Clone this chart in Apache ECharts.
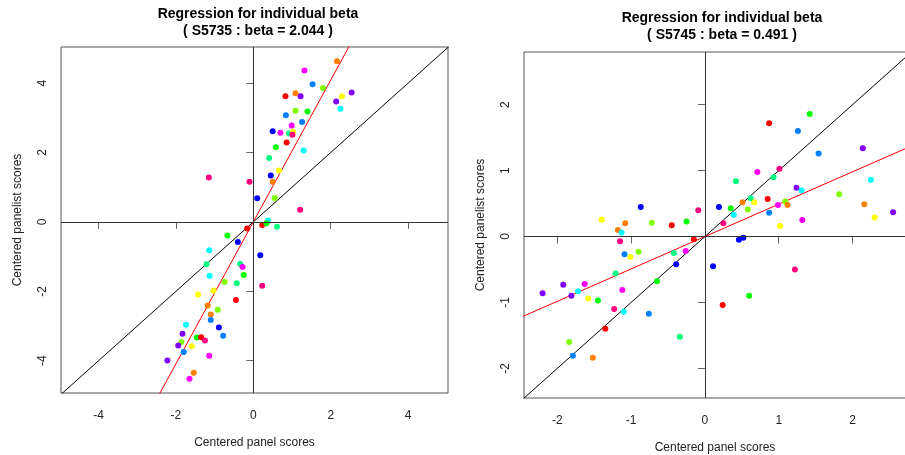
<!DOCTYPE html>
<html><head><meta charset="utf-8">
<script src="https://cdn.jsdelivr.net/npm/echarts@6/dist/echarts.min.js"></script>
<style>html,body{margin:0;padding:0;background:#fff}#c{width:905px;height:455px}</style>
</head><body><div id="c"></div>
<script>
// ---- data ----
const palette = ['#FF0000','#FF8000','#FFFF00','#80FF00','#00FF00','#00FF80','#00FFFF','#0080FF','#0000FF','#8000FF','#FF00FF','#FF0080'];
const xTicks = [-4,-2,0,2,4];
const yTicks = [-4,-2,0,2,4];
const xTicksR = [-2,-1,0,1,2];
const yTicksR = [-2,-1,0,1,2];
const title1 = ['Regression for individual beta', '( S5735 : beta = 2.044 )'];
const title2 = ['Regression for individual beta', '( S5745 : beta = 0.491 )'];
const beta1 = 2.044;
const beta2 = 0.491;
// left panel (S5735)
const leftX = [2.16,1.32,1.53,1.80,1.09,0.83,1.22,2.54,2.29,2.14,2.25,1.09,1.40,0.84,1.26,0.99,0.50,0.70,0.92,1.03,1.01,0.86,0.58,1.30,0.41,0.66,0.45,0.50,-0.10,0.10,0.55,1.21,0.38,-1.15,
 -0.16,0.23,0.34,0.61,0.18,0.23,-0.67,-0.40,-1.14,-1.21,-1.13,-0.34,-0.28,-0.25,-0.43,-0.74,-1.43,-1.03,-0.45,-1.18,-0.92,-1.10,-1.10,-1.74,-0.89,-1.83,-0.78,-1.46,-1.35,-1.25,-1.86,-1.94,-1.59,-1.80,-1.14,-2.22,-1.54,-1.65];
const leftY = [4.63,4.36,3.97,3.86,3.71,3.62,3.62,3.73,3.62,3.47,3.26,3.20,3.18,3.07,2.88,2.78,2.61,2.57,2.55,2.60,2.51,2.29,2.15,2.06,1.84,1.48,1.34,1.16,1.16,0.68,0.69,0.35,0.04,1.28,
 -0.19,-0.09,-0.04,-0.14,-0.96,-1.84,-0.39,-0.58,-0.82,-1.22,-1.55,-1.21,-1.30,-1.53,-1.77,-1.73,-2.09,-1.98,-2.25,-2.41,-2.53,-2.67,-2.83,-2.96,-3.04,-3.22,-3.28,-3.33,-3.32,-3.42,-3.46,-3.56,-3.58,-3.75,-3.86,-3.99,-4.35,-4.52];
const leftG = [1,10,7,3,1,0,9,9,2,9,6,3,4,7,7,10,8,10,5,2,11,0,4,6,5,2,8,1,11,8,3,11,6,11,
 0,0,4,5,8,11,4,8,6,5,6,5,10,4,5,3,2,2,0,1,3,1,7,6,8,9,7,4,0,11,3,9,2,7,10,9,1,10];
// right panel (S5745)
const rightX = [-0.87,-0.09,-1.40,-0.72,-0.45,-0.25,-1.08,-1.18,-1.13,-0.15,-1.15,-1.09,-1.01,-0.90,-0.42,-0.26,-0.39,-1.21,-0.65,-2.20,-1.92,-1.63,-1.72,-1.81,-1.12,-1.58,-1.45,-1.23,-1.10,-0.76,-1.35,-0.34,-1.84,-1.79,-1.52,
 1.42,0.87,1.26,2.14,1.54,0.71,1.01,0.42,0.93,1.24,1.31,2.25,1.82,0.62,0.51,0.67,0.85,1.09,1.12,0.99,0.19,0.35,0.58,0.39,0.87,2.16,2.55,2.30,1.32,1.02,0.25,0.52,0.46,0.11,1.22,0.60,0.24];
const rightY = [0.45,0.40,0.26,0.21,0.17,0.23,0.20,0.10,0.06,-0.04,-0.07,-0.27,-0.31,-0.23,-0.25,-0.22,-0.42,-0.56,-0.68,-0.86,-0.73,-0.72,-0.83,-0.90,-0.81,-0.94,-0.97,-1.10,-1.14,-1.17,-1.40,-1.52,-1.60,-1.81,-1.84,
 1.86,1.72,1.60,1.34,1.26,0.98,1.03,0.84,0.90,0.74,0.70,0.86,0.64,0.58,0.52,0.52,0.57,0.53,0.48,0.48,0.45,0.43,0.41,0.33,0.36,0.49,0.37,0.29,0.25,0.16,0.20,-0.02,-0.05,-0.45,-0.50,-0.90,-1.04];
const rightG = [8,11,2,3,0,4,1,1,6,0,11,7,2,3,5,10,8,5,4,9,9,10,6,9,10,2,4,11,6,7,0,5,3,7,1,
 4,0,7,9,7,10,11,5,5,9,6,6,3,5,1,2,0,3,1,10,8,4,3,6,7,1,9,2,10,2,11,8,8,8,11,4,0];

// ---- chart ----
const FONT = '"Liberation Sans", Arial, sans-serif';
const chart = echarts.init(document.getElementById('c'), null, {renderer:'canvas'});
function pts(xs, ys, gs){ return xs.map((x,i)=>[x, ys[i], gs[i]]); }
function axisX(idx, min, max, ticks){
  return {gridIndex: idx, type:'value', min:min, max:max,
    name:'Centered panel scores', nameLocation:'middle', nameGap:44,
    nameTextStyle:{fontFamily:FONT, fontSize:12, color:'#222'},
    axisLine:{show:false}, splitLine:{show:false},
    axisTick:{show:true, length:7, inside:false, customValues:ticks, lineStyle:{color:'#666'}},
    axisLabel:{customValues:ticks, margin:17, fontFamily:FONT, fontSize:12, color:'#222'}};
}
function axisY(idx, min, max, ticks, gap){
  return {gridIndex: idx, type:'value', min:min, max:max,
    name:'Centered panelist scores', nameLocation:'middle', nameGap:gap, nameRotate:90,
    nameTextStyle:{fontFamily:FONT, fontSize:12, color:'#222'},
    axisLine:{show:false}, splitLine:{show:false},
    axisTick:{show:true, length:7, inside:false, customValues:ticks, lineStyle:{color:'#666'}},
    axisLabel:{customValues:ticks, rotate:90, margin:12, fontFamily:FONT, fontSize:12, color:'#222'}};
}
function scatter(idx, data){
  return {type:'scatter', xAxisIndex:idx, yAxisIndex:idx, data:data, symbolSize:6,
    itemStyle:{color:p=>palette[p.value[2]], opacity:1}, z:3,
    markLine:{silent:true, symbol:'none', label:{show:false}, animation:false,
      lineStyle:{color:'#333', width:1, type:'solid'},
      data:[{xAxis:0},{yAxis:0}]}};
}
function line(idx, slope, color){
  return {type:'line', xAxisIndex:idx, yAxisIndex:idx, clip:true, symbol:'none', silent:true,
    data:[[-20, -20*slope],[20, 20*slope]], lineStyle:{color:color, width:1}, z:2};
}
chart.setOption({
  animation:false,
  backgroundColor:'#fff',
  title:[
    {text:title1[0]+'\n'+title1[1], left:253, top:1, textAlign:'center',
      textStyle:{fontFamily:FONT, fontSize:14, fontWeight:'bold', color:'#000', lineHeight:17}},
    {text:title2[0]+'\n'+title2[1], left:717, top:5, textAlign:'center',
      textStyle:{fontFamily:FONT, fontSize:14, fontWeight:'bold', color:'#000', lineHeight:17}}
  ],
  grid:[
    {left:61, top:47, width:387, height:346, show:true, borderColor:'#555', borderWidth:1, backgroundColor:'transparent', outerBoundsMode:'none', containLabel:false},
    {left:524, top:52, width:382, height:346, show:true, borderColor:'#555', borderWidth:1, backgroundColor:'transparent', outerBoundsMode:'none', containLabel:false}
  ],
  xAxis:[axisX(0, -4.97, 5.03, xTicks), axisX(1, -2.452, 2.725, xTicksR)],
  yAxis:[axisY(0, -4.93, 5.04, yTicks, 37), axisY(1, -2.45, 2.80, yTicksR, 37)],
  series:[
    line(0, 1, '#000'), line(0, beta1, '#FF0000'), scatter(0, pts(leftX,leftY,leftG)),
    line(1, 1, '#000'), line(1, beta2, '#FF0000'), scatter(1, pts(rightX,rightY,rightG))
  ]
});
</script></body></html>
